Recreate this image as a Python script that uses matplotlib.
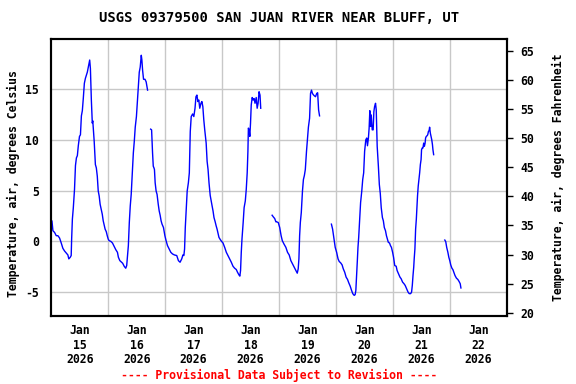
import numpy as np
import pandas as pd
import matplotlib
matplotlib.use('Agg')
import matplotlib.pyplot as plt

plt.rcParams['font.family'] = 'DejaVu Sans Mono'
plt.rcParams['font.weight'] = 'bold'
plt.rcParams['axes.titleweight'] = 'bold'
plt.rcParams['axes.labelweight'] = 'bold'
plt.rcParams['font.size'] = 8.3

title = 'USGS 09379500 SAN JUAN RIVER NEAR BLUFF, UT'
left_label = 'Temperature, air, degrees Celsius'
right_label = 'Temperature, air, degrees Fahrenheit'
footer = '---- Provisional Data Subject to Revision ----'

start = pd.Timestamp('2026-01-15 00:00')
days = pd.date_range('2026-01-15', '2026-01-22', freq='D')
day_labels = ['Jan\n15\n2026', 'Jan\n16\n2026', 'Jan\n17\n2026', 'Jan\n18\n2026',
              'Jan\n19\n2026', 'Jan\n20\n2026', 'Jan\n21\n2026', 'Jan\n22\n2026']

# hours since Jan 15 00:00, air temperature (deg C); None = gap in record
hours = [
    0.3, 0.7, 1.4, 2.1, 2.8, 3.5, 4.2, 4.9, 5.6, 6.3, 7.0, 7.4, 8.0, 8.4, 8.6, 8.9,
    9.3, 9.8, 10.2, 10.6, 11.0, 11.4, 11.9, 12.3, 12.7, 13.1, 13.5, 13.95, 14.4, 14.8,
    15.2, 15.6, 16.2, 16.5, 16.9, 17.3, 17.5, 17.7, 18.1, 18.6, 19.0, 19.4, 19.8, 20.2,
    20.6, 21.1, 21.5, 21.9, 22.3, 22.7, 23.2, 23.6, 24.0,
    24.4, 25.1, 25.8, 26.5, 27.2, 27.9, 28.3, 28.9, 29.6, 30.1, 30.8, 31.4, 31.8, 32.1,
    32.5, 32.9, 33.3, 33.7, 34.2, 34.6, 35.0, 35.4, 35.9, 36.3, 36.7, 37.1, 37.5, 37.95,
    38.2, 38.5, 38.9, 39.5, 40.0, 40.6,
    None,
    41.9, 42.3, 42.7, 43.0, 43.3, 43.5, 43.8, 44.2, 44.6, 45.1, 45.5, 45.9, 46.3, 46.7,
    47.3, 47.9, 48.4, 49.0, 49.7, 50.4, 51.1, 51.9, 52.9, 53.6, 54.3, 55.0, 55.5, 55.9,
    56.2, 56.5, 56.9, 57.3, 57.8, 58.2, 58.6, 59.0, 59.6, 60.1, 60.6, 61.0, 61.4, 61.8,
    62.2, 62.6, 63.1, 63.5, 63.9, 64.3, 64.7, 65.3, 65.7, 66.1, 66.5, 67.0, 67.4, 67.8,
    68.2, 68.6, 69.1, 69.5, 69.9, 70.3, 70.7, 71.3, 71.8,
    72.4, 73.1, 73.8, 74.5, 75.2, 75.9, 76.6, 77.3, 78.0, 78.5, 79.1, 79.5, 79.8, 80.1,
    80.4, 80.6, 80.9, 81.3, 81.8, 82.2, 82.6, 82.9, 83.1, 83.4, 83.7, 84.0, 84.3, 84.7,
    85.1, 85.5, 85.9, 86.4, 86.8, 87.2, 87.6, 88.0, 88.3,
    None,
    93.1, 93.6, 94.2, 94.7, 95.0, 95.7, 96.3, 96.9, 97.4, 98.1, 98.9, 99.6, 100.3, 101.0,
    101.7, 102.4, 103.1, 103.7, 104.1, 104.4, 104.7, 105.0, 105.4, 105.9, 106.3, 106.7,
    107.1, 107.6, 108.0, 108.4, 108.9, 109.3, 109.7, 110.1, 110.6, 111.0, 111.4, 111.9,
    112.3, 112.7, 113.1,
    None,
    118.1, 118.6, 119.1, 119.7, 120.3, 120.9, 121.4, 122.0, 122.6, 123.1, 123.7, 124.3,
    124.9, 125.4, 126.0, 126.6, 127.1, 127.7, 128.1, 128.4, 128.7, 129.0, 129.3, 129.6,
    130.0, 130.4, 130.9, 131.3, 131.7, 132.1, 132.6, 133.0, 133.3, 133.7, 134.0, 134.3,
    134.6, 134.9, 135.3, 135.7, 136.0, 136.3, 136.7, 137.0, 137.4, 137.9, 138.3, 138.7,
    139.1, 139.6, 140.0, 140.4, 140.9, 141.3, 141.7, 142.1, 142.6, 143.0, 143.4, 143.9,
    144.3, 144.8, 145.4, 145.8, 146.4, 147.0, 147.5, 148.1, 148.7, 149.2, 149.8, 150.4,
    150.9, 151.5, 151.9, 152.2, 152.5, 152.8, 153.0, 153.3, 153.6, 153.9, 154.2, 154.4,
    154.7, 155.0, 155.3, 155.6, 155.9, 156.1, 156.4, 156.7, 157.0, 157.3, 157.6, 157.8,
    158.1, 158.4, 158.7, 159.0, 159.3, 159.5, 159.8, 160.1, 160.4, 160.7, 160.9, 161.2,
    None,
    165.9, 166.3, 166.7, 167.2, 167.6, 168.0, 168.4, 168.9, 169.3, 169.7, 170.2, 170.8,
    171.4, 171.9, 172.4, 172.7,
]
temps = [
    2.0, 1.05, 0.88, 0.56, 0.56, 0.33, -0.16, -0.69, -0.95, -1.14, -1.34, -1.73, -1.57, -1.4, 0.29, 2.19,
    3.33, 5.13, 7.48, 8.24, 8.46, 9.44, 10.36, 10.52, 12.39, 12.9, 14.1, 15.6, 16.1, 16.4,
    16.7, 17.2, 17.9, 17.06, 13.95, 11.67, 11.9, 11.27, 9.87, 7.58, 7.25, 6.44, 4.97, 4.48,
    3.66, 3.1, 2.68, 2.03, 1.6, 1.21, 0.95, 0.56, 0.23,
    0.07, 0.0, -0.16, -0.49, -0.82, -1.08, -1.57, -1.9, -2.06, -2.16, -2.48, -2.65, -2.39, -1.57,
    -0.42, 1.86, 3.5, 4.64, 6.93, 8.73, 9.87, 11.27, 12.32, 13.8, 15.4, 16.7, 17.2, 18.37,
    17.9, 16.9, 16.0, 16.0, 15.75, 14.93,
    None,
    11.08, 11.0, 8.73, 7.42, 7.25, 7.09, 5.78, 4.97, 4.64, 3.66, 3.0, 2.58, 2.03, 1.7,
    1.37, 0.56, 0.07, -0.42, -0.75, -1.08, -1.24, -1.34, -1.4, -1.9, -2.06, -1.73, -1.34, -1.4,
    -0.75, 1.37, 3.1, 4.97, 5.78, 6.76, 10.85, 12.32, 12.58, 12.32, 13.14, 14.28, 14.44, 13.8,
    13.95, 13.14, 13.63, 13.8, 13.3, 12.0, 11.01, 9.7, 7.9, 7.09, 5.78, 4.54, 3.99, 3.5,
    3.0, 2.35, 1.93, 1.54, 1.21, 0.82, 0.39, 0.16, 0.0,
    -0.16, -0.59, -1.08, -1.4, -1.73, -2.06, -2.45, -2.65, -2.78, -3.04, -3.3, -3.43, -2.88, -1.08,
    0.23, 0.88, 1.86, 3.33, 3.99, 5.13, 6.76, 8.89, 11.18, 11.0, 10.36, 11.67, 13.46, 14.2,
    13.95, 14.1, 13.63, 14.2, 13.14, 13.63, 14.77, 14.44, 13.14,
    None,
    2.58, 2.42, 2.25, 1.93, 1.93, 1.86, 1.37, 0.56, 0.07, -0.26, -0.59, -1.08, -1.34, -1.9,
    -2.22, -2.55, -2.88, -3.14, -2.71, -1.73, 0.56, 1.86, 2.84, 4.97, 6.11, 6.5,
    7.09, 8.89, 10.03, 11.27, 12.16, 14.6, 14.93, 14.6, 14.44, 14.35, 14.28, 14.6,
    14.67, 12.97, 12.39,
    None,
    1.7, 1.21, 0.39, -0.59, -1.08, -1.73, -1.99, -2.12, -2.32, -2.71, -3.04, -3.53,
    -3.76, -4.08, -4.41, -4.84, -5.16, -5.33, -5.26, -4.84, -3.53, -2.06, -0.59, 0.39,
    2.03, 3.82, 4.97, 6.11, 6.76, 8.89, 10.03, 10.2, 9.44, 10.2, 11.18, 12.9,
    11.34, 12.48, 11.01, 11.01, 12.81, 13.3, 13.63, 12.97, 9.38, 7.42, 5.62, 4.74,
    3.33, 2.35, 2.03, 1.37, 1.05, 0.56, 0.23, -0.1, -0.16, -0.42, -0.59, -1.08,
    -1.57, -2.39, -2.45, -2.88, -3.2, -3.53, -3.69, -4.02, -4.18, -4.35, -4.67, -5.0,
    -5.16, -5.16, -5.0, -4.35, -3.37, -2.55, -1.73, -0.75, 1.21, 2.19, 3.5, 4.48,
    5.46, 6.11, 6.76, 7.58, 8.07, 9.05, 9.22, 9.22, 9.7, 9.38, 9.7, 10.2,
    10.36, 10.42, 10.52, 10.85, 10.95, 11.27, 10.69, 10.36, 10.03, 9.54, 9.05, 8.56,
    None,
    0.13, -0.03, -0.59, -1.08, -1.57, -1.9, -2.32, -2.65, -2.78, -3.04, -3.37, -3.63,
    -3.76, -3.95, -4.18, -4.6,
]

h = np.array([np.nan if v is None else v for v in hours], dtype=float)
t = np.array([np.nan if v is None else v for v in temps], dtype=float)
times = start + pd.to_timedelta(np.nan_to_num(h), unit='h')

fig = plt.figure(figsize=(5.76, 3.84), dpi=100)
ax = fig.add_axes([0.089, 0.177, 0.7907, 0.7213])

ax.plot(times, t, color='#0000ff', lw=1.0)

ax.set_xlim(start, start + pd.Timedelta(days=8))
ax.set_ylim(-7.37, 19.97)

# day labels centred on each day, grid at midnight
ax.set_xticks(days + pd.Timedelta(hours=12))
ax.set_xticklabels(day_labels, linespacing=1.15, fontweight='bold')
ax.set_xticks(days[1:], minor=True)
ax.tick_params(axis='x', which='both', length=0, pad=6)
ax.grid(axis='x', which='minor', color='#c8c8c8', lw=1)

ax.set_yticks([-5, 0, 5, 10, 15])
ax.set_yticklabels(['-5', '0', '5', '10', '15'], fontweight='bold')
ax.tick_params(axis='y', length=0, pad=9)
ax.grid(axis='y', color='#c8c8c8', lw=1)
ax.set_ylabel(left_label, fontweight='bold')
ax.yaxis.set_label_coords(-0.068, 0.48)
for s in ax.spines.values():
    s.set_linewidth(1.5)

ax2 = ax.twinx()
ax2.set_ylim(19.43, 67.05)
ax2.set_yticks(np.arange(20, 70, 5))
ax2.set_yticklabels([str(v) for v in range(20, 70, 5)], fontweight='bold')
ax2.tick_params(axis='y', length=4, width=1, pad=6)
ax2.set_ylabel(right_label, labelpad=13, fontweight='bold')
for s in ax2.spines.values():
    s.set_linewidth(1.5)

ax.set_title(title, pad=12, fontweight='bold')
fig.text(0.484, 0.023, footer, color='red', ha='center', va='center', fontweight='bold')

fig.savefig('out.png', dpi=100)
